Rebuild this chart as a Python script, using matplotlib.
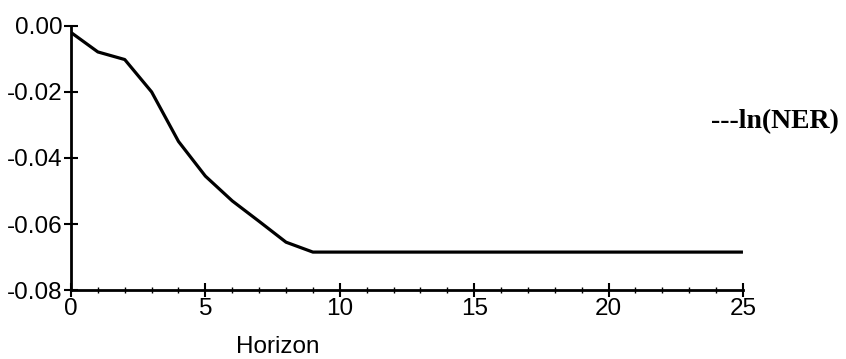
import matplotlib
matplotlib.use("Agg")
import matplotlib.pyplot as plt
import matplotlib.ticker as mticker

# impulse response of ln(NER)
horizon = list(range(0, 26))
response = [-0.002, -0.0079, -0.0102, -0.020, -0.035, -0.0455, -0.0530, -0.0592,
            -0.0655, -0.0685] + [-0.0685] * 16

x_ticks = [0, 5, 10, 15, 20, 25]
y_ticks = [0.00, -0.02, -0.04, -0.06, -0.08]
y_tick_labels = ["0.00", "-0.02", "-0.04", "-0.06", "-0.08"]

fig = plt.figure(figsize=(8.46, 3.59), dpi=100)
ax = fig.add_axes([0.0839, 0.192, 0.7943, 0.736])

ax.plot(horizon, response, color="black", lw=2.3, solid_capstyle="butt")

ax.set_xlim(0, 25)
ax.set_ylim(-0.08, 0.0)
ax.set_xticks(x_ticks)
ax.set_yticks(y_ticks)
ax.set_yticklabels(y_tick_labels)
ax.xaxis.set_minor_locator(mticker.MultipleLocator(1))

for s in ["top", "right"]:
    ax.spines[s].set_visible(False)
for s in ["left", "bottom"]:
    ax.spines[s].set_linewidth(2.0)

ax.tick_params(axis="both", which="major", direction="inout", length=10, width=1.5,
               labelsize=17.5, pad=1)
ax.tick_params(axis="x", which="minor", direction="inout", length=5, width=1.0)
for lab in ax.get_xticklabels() + ax.get_yticklabels():
    lab.set_fontfamily("Liberation Sans")

ax.set_xlabel("Horizon", fontsize=17.5, family="Liberation Sans")
ax.xaxis.set_label_coords(0.308, -0.175)

fig.text(0.916, 0.66, "---ln(NER)", fontsize=20, fontweight="bold",
         family="Liberation Serif", ha="center", va="center")

fig.savefig("out.png", dpi=100)
